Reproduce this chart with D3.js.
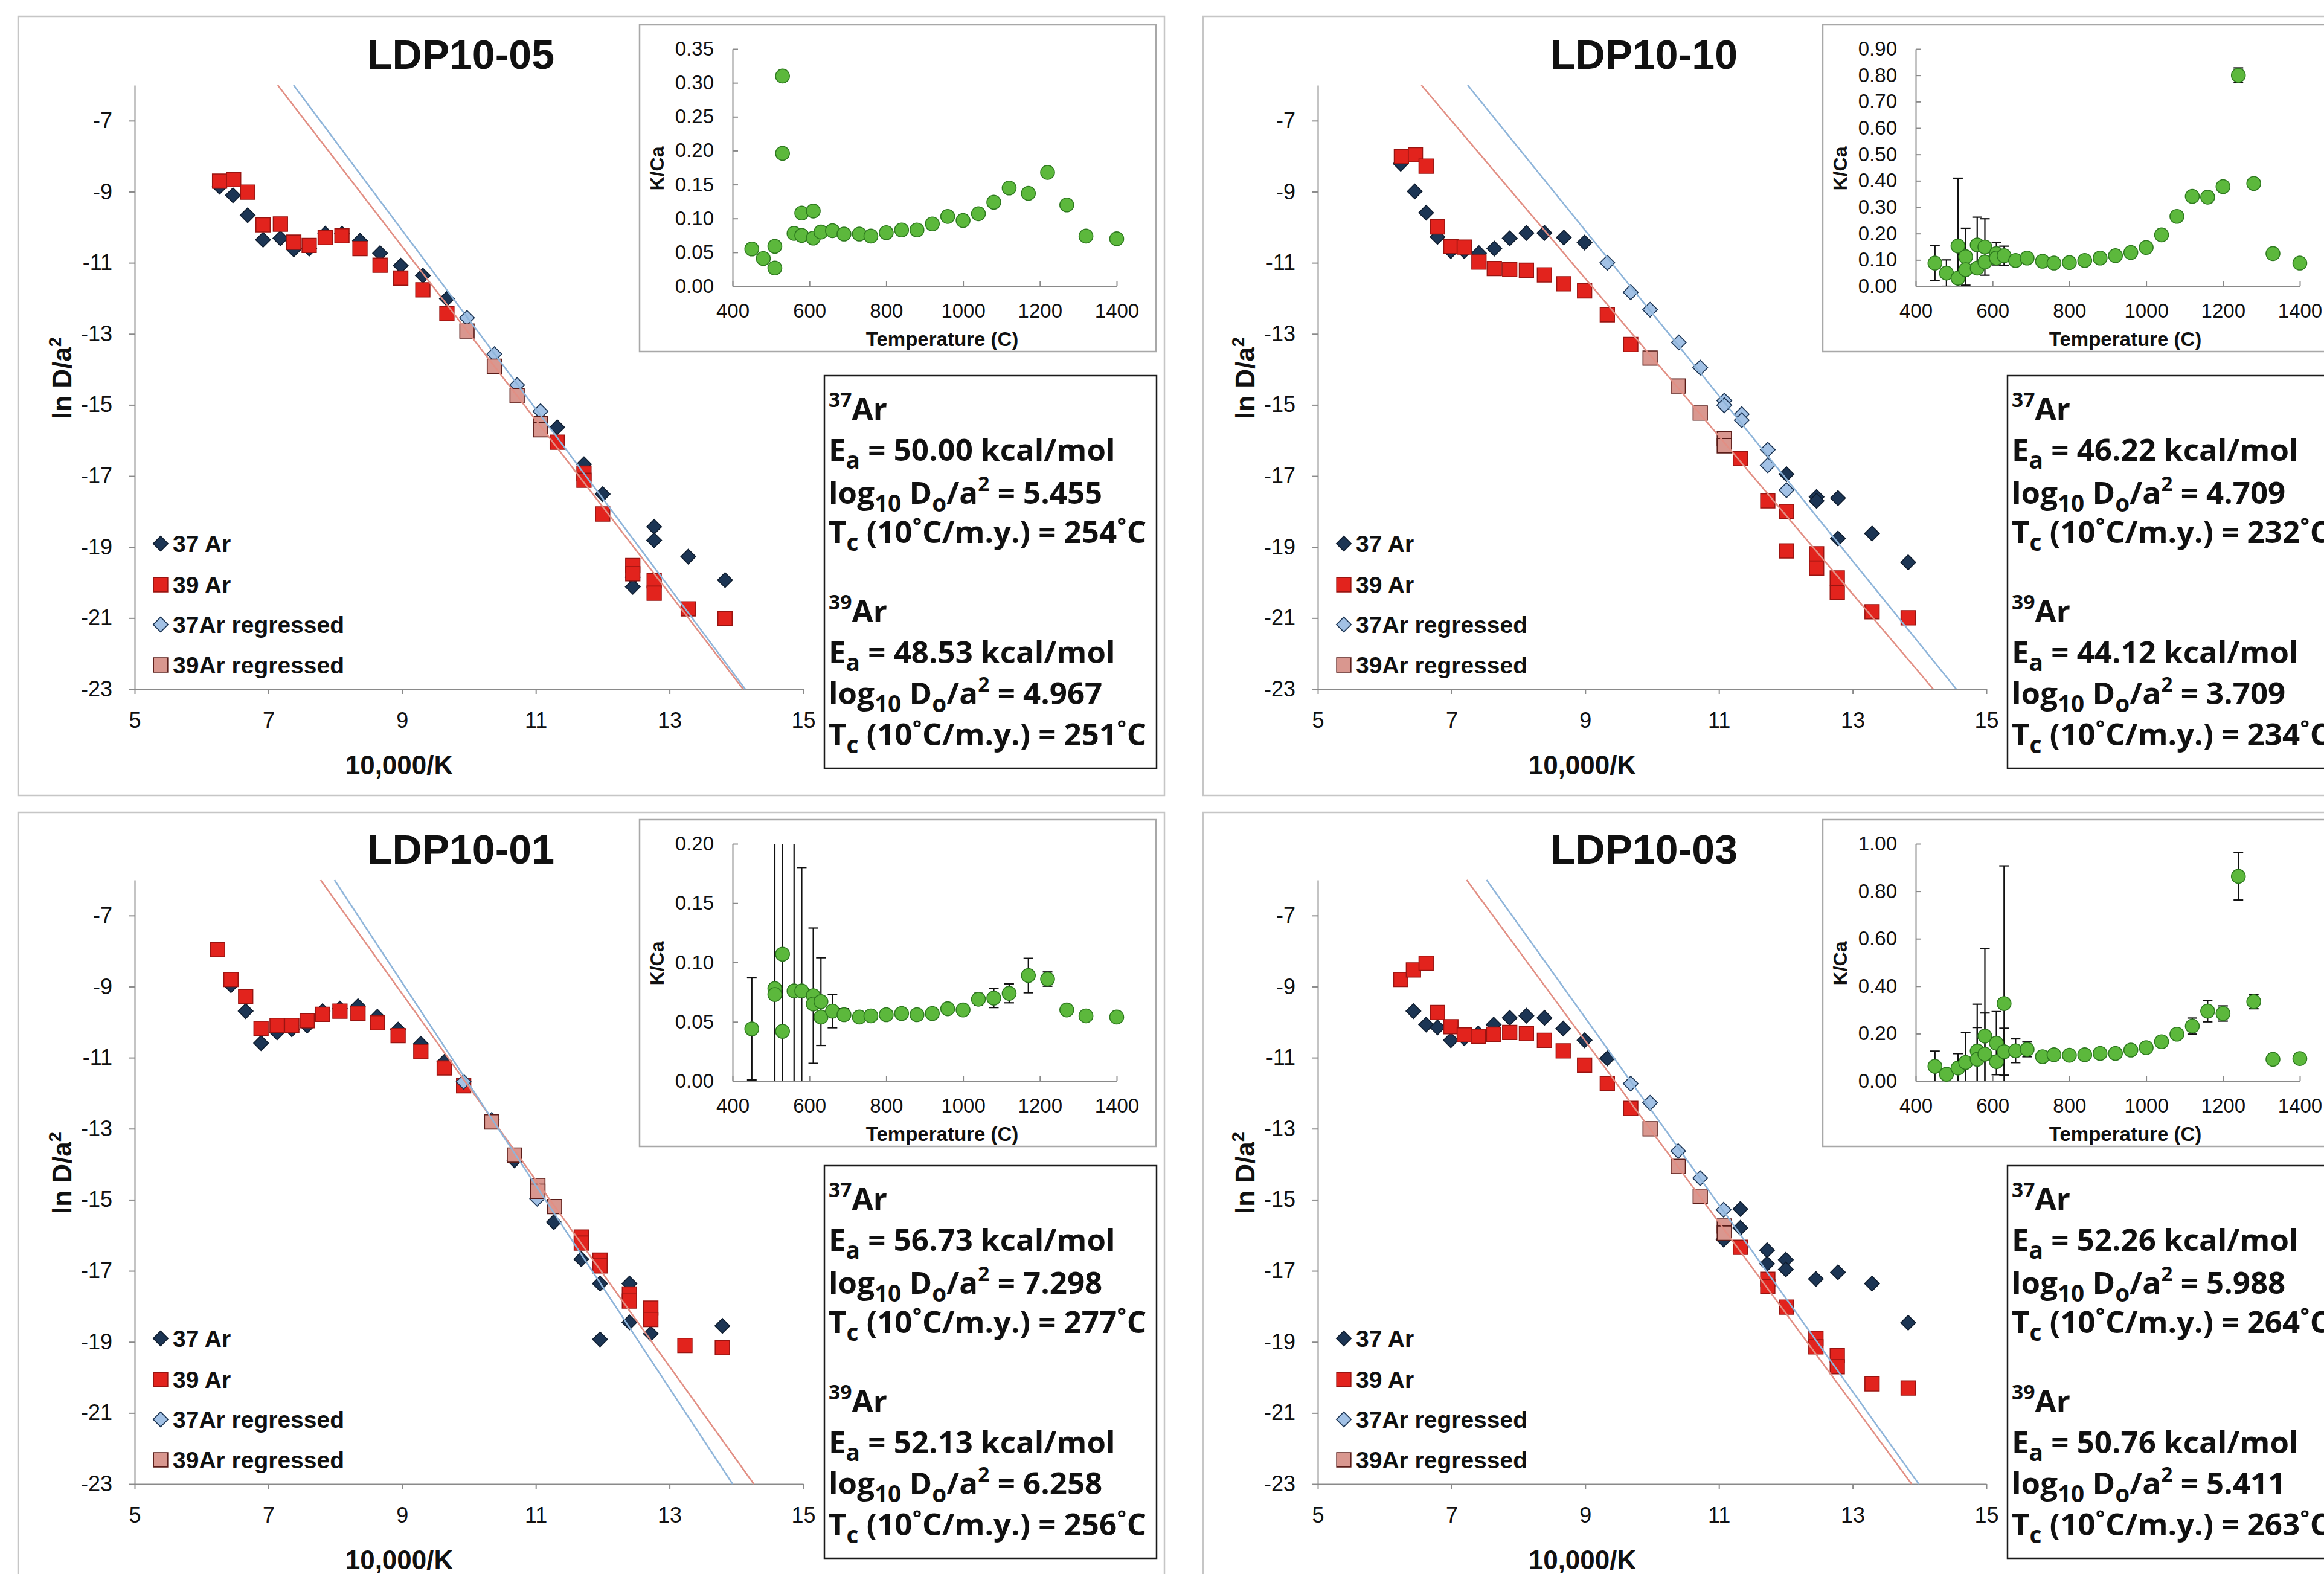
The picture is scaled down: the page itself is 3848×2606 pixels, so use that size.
<!DOCTYPE html>
<html>
<head>
<meta charset="utf-8">
<script src="https://cdn.jsdelivr.net/npm/d3@7"></script>
<style>
  body { margin: 0; background: #fff; }
  svg { display: block; }
  text { white-space: pre; }
</style>
</head>
<body>
<svg id="fig" width="3848" height="2606"></svg>
<script>
// ---------------------------------------------------------------
// Sample names and Arrhenius parameters
// ---------------------------------------------------------------
const sampleNames = ["LDP10-05", "LDP10-10", "LDP10-01", "LDP10-03"];
const eaAr37   = [50.00, 46.22, 56.73, 52.26];   // kcal/mol
const logD0Ar37 = [5.455, 4.709, 7.298, 5.988];  // log10 Do/a^2
const tcAr37   = [254, 232, 277, 264];           // degC at 10 C/m.y.
const eaAr39   = [48.53, 44.12, 52.13, 50.76];
const logD0Ar39 = [4.967, 3.709, 6.258, 5.411];
const tcAr39   = [251, 234, 256, 263];

// ---------------------------------------------------------------
// Arrhenius data: [10,000/K , ln D/a^2]
// ---------------------------------------------------------------
// LDP10-05
const ar37_05 = [[6.27,-8.86],[6.47,-9.10],[6.69,-9.66],[6.92,-10.35],[7.18,-10.31],[7.38,-10.62],[7.61,-10.60],[7.85,-10.18],[8.10,-10.18],[8.37,-10.38],[8.67,-10.73],[8.98,-11.08],[9.31,-11.36],[9.67,-12.01],[11.32,-15.63],[11.72,-16.67],[12.00,-17.51],[12.45,-19.85],[12.45,-20.12],[12.77,-18.43],[12.77,-18.81],[13.28,-19.27],[13.83,-19.93]];
const ar37r_05 = [[9.97,-12.55],[10.38,-13.57],[10.72,-14.44],[11.07,-15.18]];
const ar39_05 = [[6.27,-8.70],[6.48,-8.66],[6.69,-9.01],[6.92,-9.93],[7.18,-9.91],[7.38,-10.42],[7.61,-10.51],[7.85,-10.29],[8.10,-10.24],[8.37,-10.60],[8.67,-11.07],[8.98,-11.43],[9.31,-11.76],[9.67,-12.43],[11.32,-16.05],[11.72,-16.92],[11.72,-17.12],[12.00,-18.07],[12.45,-19.52],[12.45,-19.75],[12.77,-19.95],[12.77,-20.30],[13.28,-20.74],[13.83,-21.01]];
const ar39r_05 = [[9.97,-12.92],[10.38,-13.91],[10.72,-14.74],[11.07,-15.52],[11.07,-15.70]];

// LDP10-10
const ar37_10 = [[6.24,-8.21],[6.45,-8.99],[6.62,-9.59],[6.79,-10.27],[6.99,-10.67],[7.19,-10.67],[7.41,-10.73],[7.64,-10.60],[7.87,-10.31],[8.12,-10.16],[8.39,-10.16],[8.68,-10.29],[8.99,-10.43],[12.01,-16.95],[12.46,-17.59],[12.46,-17.70],[12.78,-17.62],[12.78,-18.76],[13.29,-18.62],[13.83,-19.43]];
const ar37r_10 = [[9.33,-11.00],[9.68,-11.83],[9.97,-12.32],[10.40,-13.24],[10.72,-13.95],[11.08,-14.88],[11.08,-15.01],[11.34,-15.26],[11.34,-15.43],[11.73,-16.26],[11.73,-16.70],[12.01,-17.40]];
const ar39_10 = [[6.25,-8.01],[6.46,-7.96],[6.62,-8.28],[6.79,-9.99],[6.99,-10.54],[7.19,-10.56],[7.41,-10.98],[7.64,-11.16],[7.87,-11.19],[8.12,-11.21],[8.39,-11.34],[8.68,-11.59],[8.99,-11.79],[9.33,-12.46],[9.68,-13.30],[11.32,-16.51],[11.73,-17.70],[12.01,-18.00],[12.01,-19.11],[12.46,-19.19],[12.46,-19.59],[12.77,-19.87],[12.77,-20.28],[13.29,-20.82],[13.83,-20.99]];
const ar39r_10 = [[9.97,-13.68],[10.39,-14.47],[10.72,-15.23],[11.08,-15.95],[11.08,-16.15]];

// LDP10-01
const ar37_01 = [[6.44,-8.96],[6.66,-9.69],[6.89,-10.59],[7.13,-10.29],[7.35,-10.20],[7.58,-10.10],[7.81,-9.69],[8.07,-9.62],[8.34,-9.55],[8.63,-9.85],[8.94,-10.21],[9.28,-10.61],[9.63,-11.12],[10.68,-13.89],[11.27,-15.63],[11.68,-16.67],[11.96,-17.36],[11.96,-18.93],[12.40,-17.36],[12.40,-18.45],[12.72,-18.77],[13.79,-18.55]];
const ar37r_01 = [[9.92,-11.68],[10.34,-12.75],[11.02,-14.97]];
const ar39_01 = [[6.24,-7.96],[6.44,-8.80],[6.66,-9.28],[6.89,-10.18],[7.13,-10.09],[7.35,-10.09],[7.58,-9.96],[7.81,-9.78],[8.07,-9.69],[8.34,-9.75],[8.63,-10.02],[8.94,-10.38],[9.28,-10.83],[9.63,-11.29],[9.92,-11.79],[11.68,-16.05],[11.68,-16.22],[11.96,-16.70],[11.96,-16.86],[12.40,-17.65],[12.40,-17.85],[12.72,-18.05],[12.72,-18.37],[13.23,-19.10],[13.79,-19.16]];
const ar39r_01 = [[10.34,-12.81],[10.68,-13.74],[11.03,-14.60],[11.03,-14.76],[11.28,-15.19]];

// LDP10-03
const ar37_03 = [[6.43,-9.69],[6.62,-10.07],[6.79,-10.15],[6.99,-10.51],[7.19,-10.45],[7.40,-10.32],[7.63,-10.07],[7.87,-9.88],[8.12,-9.82],[8.39,-9.88],[8.67,-10.18],[8.99,-10.51],[9.33,-11.02],[11.07,-16.12],[11.32,-15.26],[11.32,-15.79],[11.72,-16.42],[11.72,-16.80],[12.00,-16.69],[12.00,-16.96],[12.45,-17.23],[12.78,-17.04],[13.29,-17.36],[13.83,-18.46]];
const ar37r_03 = [[9.68,-11.73],[9.97,-12.27],[10.39,-13.63],[10.72,-14.39],[11.07,-15.28]];
const ar39_03 = [[6.24,-8.80],[6.43,-8.53],[6.62,-8.34],[6.79,-9.73],[6.99,-10.13],[7.19,-10.36],[7.40,-10.40],[7.63,-10.34],[7.87,-10.29],[8.12,-10.32],[8.39,-10.51],[8.67,-10.81],[8.99,-11.21],[9.33,-11.73],[9.68,-12.43],[11.32,-16.34],[11.73,-17.24],[11.73,-17.44],[12.01,-18.02],[12.45,-18.90],[12.45,-19.14],[12.77,-19.38],[12.77,-19.70],[13.29,-20.18],[13.83,-20.30]];
const ar39r_03 = [[9.97,-13.00],[10.39,-14.06],[10.72,-14.90],[11.08,-15.74],[11.08,-15.94]];

// ---------------------------------------------------------------
// K/Ca by heating step: [temperature C, K/Ca, +/- error]
// ---------------------------------------------------------------
const kca_05 = [[450,0.055,0],[480,0.041,0],[510,0.059,0],[510,0.027,0],[530,0.310,0],[530,0.196,0],[560,0.078,0],[580,0.108,0],[580,0.075,0],[610,0.111,0],[610,0.071,0],[630,0.080,0],[660,0.082,0],[690,0.077,0],[730,0.077,0],[760,0.074,0],[800,0.079,0],[840,0.083,0],[880,0.083,0],[920,0.092,0],[960,0.103,0],[1000,0.097,0],[1040,0.107,0],[1080,0.124,0],[1120,0.145,0],[1170,0.137,0],[1220,0.168,0],[1270,0.120,0],[1320,0.074,0],[1400,0.070,0]];
const kca_10 = [[450,0.088,0.066],[480,0.050,0.050],[510,0.153,0.257],[510,0.031,0],[530,0.112,0.108],[530,0.063,0],[560,0.157,0.105],[560,0.069,0],[580,0.149,0.107],[580,0.092,0],[610,0.124,0.043],[610,0.107,0],[630,0.116,0.036],[660,0.098,0],[690,0.107,0],[730,0.095,0],[760,0.088,0],[800,0.090,0],[840,0.098,0],[880,0.107,0],[920,0.116,0],[960,0.128,0],[1000,0.147,0],[1040,0.195,0],[1080,0.265,0],[1120,0.341,0.02],[1160,0.338,0.02],[1200,0.378,0],[1240,0.800,0.028],[1280,0.390,0],[1330,0.124,0],[1400,0.088,0]];
const kca_01 = [[450,0.044,0.043],[510,0.078,0.5],[510,0.073,0],[530,0.107,0.5],[530,0.042,0],[560,0.076,0.5],[580,0.076,0.104],[610,0.072,0.057],[610,0.065,0],[630,0.067,0.037],[630,0.054,0],[660,0.059,0.014],[690,0.056,0.005],[730,0.054,0],[760,0.055,0],[800,0.056,0],[840,0.057,0],[880,0.056,0],[920,0.057,0],[960,0.061,0],[1000,0.060,0],[1040,0.069,0.005],[1080,0.070,0.008],[1120,0.074,0.008],[1170,0.089,0.0145],[1220,0.086,0.006],[1270,0.060,0],[1320,0.055,0],[1400,0.054,0]];
const kca_03 = [[450,0.0625,0.064],[480,0.029,0],[510,0.055,0.061],[530,0.079,0.125],[560,0.127,0.197],[560,0.092,0.134],[580,0.190,0.369],[580,0.114,0.173],[610,0.160,0.133],[610,0.082,0],[630,0.327,0.58],[630,0.124,0.099],[660,0.128,0.05],[690,0.134,0.031],[730,0.103,0],[760,0.111,0],[800,0.109,0],[840,0.111,0],[880,0.117,0],[920,0.117,0],[960,0.131,0],[1000,0.141,0],[1040,0.166,0],[1080,0.198,0],[1120,0.232,0.034],[1160,0.295,0.045],[1200,0.285,0.032],[1240,0.863,0.10],[1280,0.335,0.03],[1330,0.092,0],[1400,0.095,0]];

// K/Ca axis maxima and tick steps per sample
const kcaMax  = [0.35, 0.90, 0.20, 1.00];
const kcaStep = [0.05, 0.10, 0.05, 0.20];

// Main-plot tick labels
const lnTicks = [-7, -9, -11, -13, -15, -17, -19, -21, -23];
const invTTicks = [5, 7, 9, 11, 13, 15];
const tempTicks = [400, 600, 800, 1000, 1200, 1400];
const legendLabels = ["37 Ar", "39 Ar", "37Ar regressed", "39Ar regressed"];

// ---------------------------------------------------------------
const R_KCAL = 1.98720e-3;   // gas constant, kcal/(mol K)
const LN10 = Math.LN10;

const svg = d3.select("#fig");
svg.append("rect").attr("width", 3848).attr("height", 2606).attr("fill", "#fff");

const SANS = "'Liberation Sans', Arial, sans-serif";
const STAT = "'Open Sans', 'Noto Sans', sans-serif";

const colX = [0, 1959];
const rowY = [0, 1316];
const statTop = [622, 614];

const styles = {
  ar37:  {fill: "#1c3554", stroke: "#0e1c2e", shape: "diamond"},
  ar39:  {fill: "#e2231d", stroke: "#9a1411", shape: "square"},
  ar37r: {fill: "#a2c1e5", stroke: "#1c3554", shape: "diamond"},
  ar39r: {fill: "#d9978f", stroke: "#5a1c18", shape: "square"}
};
const squareSym  = d3.symbol(d3.symbolSquare, 560);
const diamondSym = d3.symbol(d3.symbolSquare, 300);

function marker(g, st, cx, cy) {
  const p = g.append("path")
    .attr("d", st.shape === "square" ? squareSym() : diamondSym())
    .attr("fill", st.fill).attr("stroke", st.stroke).attr("stroke-width", 1.6);
  p.attr("transform", st.shape === "square"
    ? `translate(${cx},${cy})`
    : `translate(${cx},${cy}) rotate(45)`);
  return p;
}

// text with sub/superscripts
function rich(g, x, y, parts, fs) {
  const t = g.append("text").attr("x", x).attr("y", y)
    .attr("font-family", STAT).attr("font-weight", 700)
    .attr("font-size", fs).attr("fill", "#111");
  let cur = 0;
  parts.forEach(p => {
    const off = p.sub ? 0.26 * fs : p.sup ? -0.42 * fs : 0;
    const size = p.sub ? 0.76 * fs : p.sup ? 0.66 * fs : fs;
    t.append("tspan").attr("dy", off - cur).attr("font-size", size).text(p.t);
    cur = off;
  });
  return t;
}

const series = [
  {ar37: ar37_05, ar37r: ar37r_05, ar39: ar39_05, ar39r: ar39r_05, kca: kca_05},
  {ar37: ar37_10, ar37r: ar37r_10, ar39: ar39_10, ar39r: ar39r_10, kca: kca_10},
  {ar37: ar37_01, ar37r: ar37r_01, ar39: ar39_01, ar39r: ar39r_01, kca: kca_01},
  {ar37: ar37_03, ar37r: ar37r_03, ar39: ar39_03, ar39r: ar39r_03, kca: kca_03}
];

function drawPanel(i) {
  const col = i % 2, row = Math.floor(i / 2);
  const g = svg.append("g").attr("transform", `translate(${colX[col]},${rowY[row]})`);
  const s = series[i];

  // panel frame
  g.append("rect").attr("x", col ? 33 : 30).attr("y", row ? 29 : 27)
    .attr("width", col ? 1960 : 1898).attr("height", row ? 1320 : 1290)
    .attr("fill", "none").attr("stroke", "#c6c6c6").attr("stroke-width", 2.5);

  // ---------- Arrhenius plot ----------
  const x = d3.scaleLinear().domain([5, 15]).range([223, 1330]);
  const y = d3.scaleLinear().domain([-23, -6]).range([1141, 141]);

  const yAx = g.append("g").attr("transform", "translate(223,0)")
    .call(d3.axisLeft(y).tickValues(lnTicks).tickSize(9).tickSizeOuter(0)
      .tickPadding(28).tickFormat(d => String(d)));
  const xAx = g.append("g").attr("transform", "translate(0,1141)")
    .call(d3.axisBottom(x).tickValues(invTTicks).tickSize(8).tickSizeOuter(0)
      .tickPadding(30).tickFormat(d => String(d)));
  [yAx, xAx].forEach(a => {
    a.selectAll("path,line").attr("stroke", "#8a8a8a").attr("stroke-width", 2);
    a.selectAll("text").attr("font-family", SANS).attr("font-size", 36).attr("fill", "#111");
  });

  // title
  g.append("text").attr("x", 763).attr("y", 114).attr("text-anchor", "middle")
    .attr("font-family", SANS).attr("font-weight", 700).attr("font-size", 68)
    .attr("fill", "#111").text(sampleNames[i]);

  // axis titles
  const yl = g.append("text").attr("transform", "translate(118,626) rotate(-90)")
    .attr("text-anchor", "middle").attr("font-family", SANS).attr("font-weight", 700)
    .attr("font-size", 44).attr("fill", "#111");
  yl.append("tspan").text("ln D/a");
  yl.append("tspan").attr("dy", -17).attr("font-size", 29).text("2");
  g.append("text").attr("x", 661).attr("y", 1282).attr("text-anchor", "middle")
    .attr("font-family", SANS).attr("font-weight", 700).attr("font-size", 44)
    .attr("fill", "#111").text("10,000/K");

  // data series (drawn in workbook order)
  const plotSeries = (data, st) => {
    data.forEach(d => marker(g, st, x(d[0]), y(d[1])));
  };
  plotSeries(s.ar37, styles.ar37);
  plotSeries(s.ar39, styles.ar39);
  plotSeries(s.ar37r, styles.ar37r);
  plotSeries(s.ar39r, styles.ar39r);

  // Arrhenius regression lines from the fitted Ea and Do/a^2
  const fitLine = (ea, logD0, color) => {
    const m = -ea / (R_KCAL * 1e4);
    const b = logD0 * LN10;
    const pts = [-6, -23].map(v => [(v - b) / m, v]);
    g.append("path")
      .attr("d", d3.line().x(d => x(d[0])).y(d => y(d[1]))(pts))
      .attr("fill", "none").attr("stroke", color).attr("stroke-width", 2.6);
  };
  fitLine(eaAr39[i], logD0Ar39[i], "#e28f84");
  fitLine(eaAr37[i], logD0Ar37[i], "#8fb5da");

  // legend
  const legSt = [styles.ar37, styles.ar39, styles.ar37r, styles.ar39r];
  const legY = [900, 968, 1034, 1101];
  legendLabels.forEach((lab, k) => {
    marker(g, legSt[k], 266, legY[k]);
    g.append("text").attr("x", 286).attr("y", legY[k] + 14)
      .attr("font-family", SANS).attr("font-weight", 700).attr("font-size", 39)
      .attr("fill", "#111").text(lab);
  });

  // ---------- K/Ca inset ----------
  g.append("rect").attr("x", 1059).attr("y", 41).attr("width", 855).attr("height", 541)
    .attr("fill", "#fff").attr("stroke", "#a8a8a8").attr("stroke-width", 2.5);
  const ix = d3.scaleLinear().domain([400, 1400]).range([1213, 1849]);
  const iy = d3.scaleLinear().domain([0, kcaMax[i]]).range([474, 81]);
  const nT = Math.round(kcaMax[i] / kcaStep[i]);
  const kTicks = d3.range(nT + 1).map(k => +(k * kcaStep[i]).toFixed(2));

  const iyAx = g.append("g").attr("transform", "translate(1213,0)")
    .call(d3.axisLeft(iy).tickValues(kTicks).tickSize(-9).tickSizeOuter(0)
      .tickPadding(31).tickFormat(d3.format(".2f")));
  const ixAx = g.append("g").attr("transform", "translate(0,474)")
    .call(d3.axisBottom(ix).tickValues(tempTicks).tickSize(-9).tickSizeOuter(0)
      .tickPadding(29).tickFormat(d => String(d)));
  [iyAx, ixAx].forEach(a => {
    a.selectAll("path,line").attr("stroke", "#8a8a8a").attr("stroke-width", 2);
    a.selectAll("text").attr("font-family", SANS).attr("font-size", 33).attr("fill", "#111");
  });
  g.append("text").attr("transform", "translate(1099,279) rotate(-90)")
    .attr("text-anchor", "middle").attr("font-family", SANS).attr("font-weight", 700)
    .attr("font-size", 32).attr("fill", "#111").text("K/Ca");
  g.append("text").attr("x", 1560).attr("y", 573).attr("text-anchor", "middle")
    .attr("font-family", SANS).attr("font-weight", 700).attr("font-size", 33)
    .attr("fill", "#111").text("Temperature (C)");

  const clipId = "kclip" + i;
  g.append("clipPath").attr("id", clipId).append("rect")
    .attr("x", 1200).attr("y", 81).attr("width", 680).attr("height", 393);
  const eb = g.append("g").attr("clip-path", `url(#${clipId})`)
    .attr("stroke", "#111").attr("stroke-width", 2.2);
  s.kca.filter(d => d[2] > 0).forEach(d => {
    const cx = ix(d[0]);
    eb.append("line").attr("x1", cx).attr("x2", cx)
      .attr("y1", iy(d[1] - d[2])).attr("y2", iy(d[1] + d[2]));
    [d[1] - d[2], d[1] + d[2]].forEach(v => {
      eb.append("line").attr("x1", cx - 8).attr("x2", cx + 8)
        .attr("y1", iy(v)).attr("y2", iy(v));
    });
  });
  g.append("g").selectAll("circle").data(s.kca).join("circle")
    .attr("cx", d => ix(d[0])).attr("cy", d => iy(d[1])).attr("r", 11.5)
    .attr("fill", "#5cb83c").attr("stroke", "#2e7a1f").attr("stroke-width", 1.6);

  // ---------- diffusion parameter box ----------
  const top = statTop[row];
  const bx = g.append("g");
  bx.append("rect").attr("x", 1365).attr("y", top).attr("width", 550).attr("height", 650)
    .attr("fill", "#fff").attr("stroke", "#1a1a1a").attr("stroke-width", 2.5);
  const fs = 51, tx = 1372;
  const block = (yy, iso, ea, logD0, tc) => {
    rich(bx, tx, top + yy[0], [{t: iso, sup: true}, {t: "Ar"}], fs);
    rich(bx, tx, top + yy[1], [{t: "E"}, {t: "a", sub: true}, {t: " = " + ea.toFixed(2) + " kcal/mol"}], fs);
    rich(bx, tx, top + yy[2], [{t: "log"}, {t: "10", sub: true}, {t: " D"}, {t: "o", sub: true},
      {t: "/a"}, {t: "2", sup: true}, {t: " = " + logD0.toFixed(3)}], fs);
    rich(bx, tx, top + yy[3], [{t: "T"}, {t: "c", sub: true}, {t: " (10\u02DAC/m.y.) = " + tc + "\u02DAC"}], fs);
  };
  block([73, 141, 212, 277], "37", eaAr37[i], logD0Ar37[i], tcAr37[i]);
  block([408, 476, 544, 612], "39", eaAr39[i], logD0Ar39[i], tcAr39[i]);
}

[0, 1, 2, 3].forEach(drawPanel);
</script>
</body>
</html>
